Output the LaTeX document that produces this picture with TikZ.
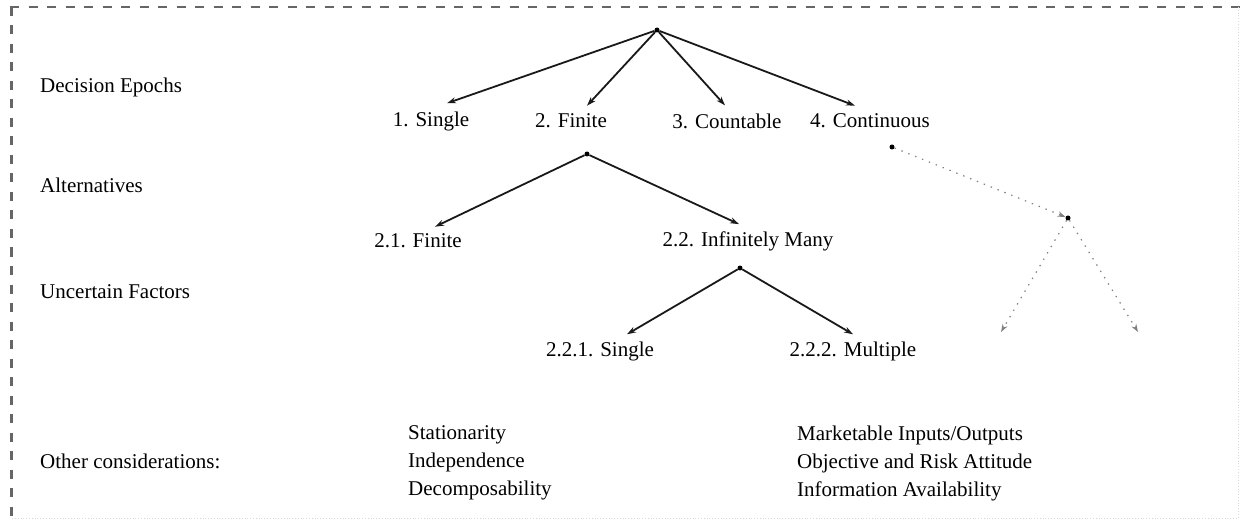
\documentclass[tikz,border=0pt]{standalone}
\usepackage{fontspec}
\setmainfont{Liberation Serif}
\usetikzlibrary{arrows.meta}
\begin{document}
\begin{tikzpicture}[x=1pt,y=-1pt,
  every node/.style={font=\fontsize{21}{28}\selectfont, inner sep=0pt, text=black},
  lbl/.style={anchor=center},
  side/.style={anchor=west},
  hub/.style={circle, fill=black, minimum size=5pt, inner sep=0pt},
  branch/.style={draw=black!90, line width=1.8pt, -{Stealth[length=9pt,width=6pt]}},
  ghost/.style={draw=black!50, line width=1.2pt, dash pattern=on 1.4pt off 6pt,
                -{Stealth[length=8pt,width=5.5pt]}},
  frame/.style={draw=black!60, line width=2.5pt, dash pattern=on 9pt off 9.5pt}
]
\useasboundingbox (0,0) rectangle (1241,521);

% dashed frame (top and left), faint dotted right and bottom
\draw[frame] (10,7) -- (1241,7);
\draw[frame] (11.5,7) -- (11.5,521);
\draw[black!15, line width=0.8pt, dotted] (1238,7) -- (1238,518) -- (11,518);

% row headings
\node[side] (hEpochs) at (40,87) {Decision Epochs};
\node[side] (hAlt) at (40,185) {Alternatives};
\node[side] (hUnc) at (40,292) {Uncertain Factors};
\node[side] (hOther) at (40,461) {Other considerations:};

% decision epochs
\node[hub] (root) at (657,30) {};
\node[lbl] (single) at (431,121) {1. Single};
\node[lbl] (finite) at (571,121) {2. Finite};
\node[lbl] (count) at (727,121) {3. Countable};
\node[lbl] (cont) at (870,121) {4. Continuous};

\draw[branch] (root) -- ([xshift=16pt,yshift=8pt]single.north);
\draw[branch] (root) -- ([xshift=16pt,yshift=8pt]finite.north);
\draw[branch] (root) -- ([xshift=-2pt,yshift=8pt]count.north);
\draw[branch] (root) -- ([xshift=-15pt,yshift=8pt]cont.north);

% alternatives under "2. Finite"
\node[hub] (finHub) at (587,154) {};
\node[lbl] (altFin) at (418,241) {2.1. Finite};
\node[lbl] (altInf) at (748,241) {2.2. Infinitely Many};
\draw[branch] (finHub) -- ([xshift=17pt,yshift=7pt]altFin.north);
\draw[branch] (finHub) -- ([xshift=-9pt,yshift=7pt]altInf.north);

% uncertain factors under "2.2. Infinitely Many"
\node[hub] (infHub) at (740,268) {};
\node[lbl] (uSingle) at (600,351) {2.2.1. Single};
\node[lbl] (uMulti) at (853,351) {2.2.2. Multiple};
\draw[branch] (infHub) -- ([xshift=27pt,yshift=7pt]uSingle.north);
\draw[branch] (infHub) -- ([xshift=0pt,yshift=7pt]uMulti.north);

% continuous case (dotted)
\node[hub] (contHub) at (892,147) {};
\node[hub] (contMid) at (1068,218) {};
\coordinate (contL) at (1001,332);
\coordinate (contR) at (1138,332);
\draw[ghost] (contHub) -- (contMid);
\draw[ghost] (contMid) -- (contL);
\draw[ghost] (contMid) -- (contR);

% other considerations
\node[anchor=west, align=left] (oLeft) at (408,463)
  {Stationarity\\Independence\\Decomposability};
\node[anchor=west, align=left] (oRight) at (797,463)
  {Marketable Inputs/Outputs\\Objective and Risk Attitude\\Information Availability};
\end{tikzpicture}
\end{document}
